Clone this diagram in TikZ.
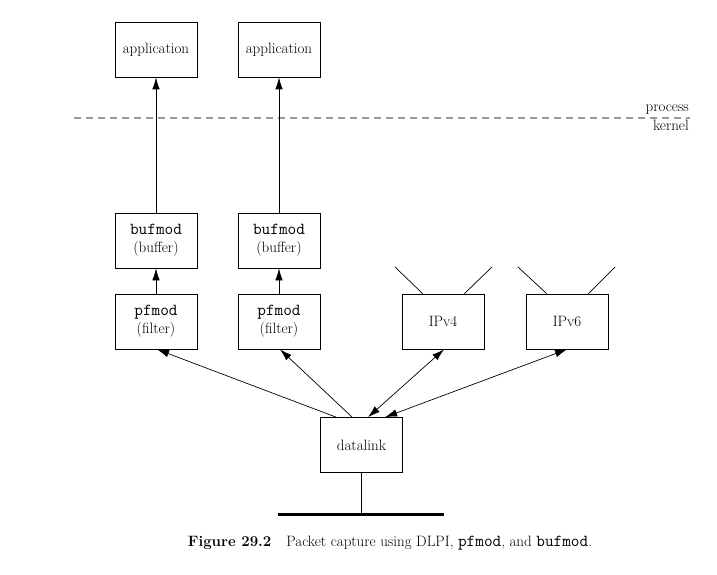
\documentclass[tikz,border=0pt]{standalone}
\usepackage{fontspec}
\setmonofont[Scale=1.12]{Latin Modern Mono}
\usetikzlibrary{arrows.meta}
\begin{document}
\begin{tikzpicture}[x=1pt,y=-1pt,
    box/.style={draw, line width=0.7pt, minimum width=82pt, minimum height=55pt,
      inner sep=1pt, align=center, font=\fontsize{15}{18}\selectfont},
    tip/.style={-{Latex[length=12pt,width=7.5pt]}, line width=0.7pt},
    bothtip/.style={{Latex[length=12pt,width=7.5pt]}-{Latex[length=12pt,width=7.5pt]}, line width=0.7pt}]
          \useasboundingbox (0,0) rectangle (717,575);
          \node [box] (app1) at (156,49.5) {application};
          \node [box] (app2) at (279,49.5) {application};
          \node [box] (buf1) at (156,240.5) {\texttt{bufmod}\\(buffer)};
          \node [box] (buf2) at (279,240.5) {\texttt{bufmod}\\(buffer)};
          \node [box] (pf1) at (156,321.5) {\texttt{pfmod}\\(filter)};
          \node [box] (pf2) at (279,321.5) {\texttt{pfmod}\\(filter)};
          \node [box] (ip4) at (443,321.5) {IPv4};
          \node [box] (ip6) at (567,321.5) {IPv6};
          \node [box] (dl) at (361.5,445) {datalink};
          
          % process / kernel boundary
          \coordinate (kl) at (74,118);
          \coordinate (kr) at (690,118);
          \draw [gray!80, line width=1.3pt, dash pattern=on 7pt off 5pt] (kl) -- (kr);
          \node [anchor=south east, inner sep=1pt, font=\fontsize{15}{18}\selectfont] (proc) at (690,116) {process};
          \node [anchor=north east, inner sep=1pt, font=\fontsize{15}{18}\selectfont] (kern) at (690,119) {kernel};
          
          % up the stream
          \draw [tip] (pf1) edge (buf1) (buf1) edge (app1);
          \draw [tip] (pf2) edge (buf2) (buf2) edge (app2);
          
          % from datalink
          \draw [tip] ([xshift=16pt]dl.north west) -- ([xshift=1pt]pf1.south);
          \draw [tip] ([xshift=32pt]dl.north west) -- ([xshift=1pt]pf2.south);
          \draw [bothtip] ([xshift=48pt]dl.north west) -- ([xshift=1pt]ip4.south);
          \draw [bothtip] ([xshift=65pt]dl.north west) -- (ip6.south);
          
          % antennas
          \coordinate (a1) at (395,267);
          \coordinate (a2) at (492,267);
          \coordinate (a3) at (518,267);
          \coordinate (a4) at (615,267);
          \draw [line width=0.7pt] ([xshift=21pt]ip4.north west) -- (a1);
          \draw [line width=0.7pt] ([xshift=-20pt]ip4.north east) -- (a2);
          \draw [line width=0.7pt] ([xshift=21pt]ip6.north west) -- (a3);
          \draw [line width=0.7pt] ([xshift=-20pt]ip6.north east) -- (a4);
          
          % wire
          \coordinate (w) at (361.5,514);
          \draw [line width=0.7pt] (dl) -- (w);
          \draw [line width=3pt] (278,514) -- (444,514);
          
          \node [font=\fontsize{15}{18}\selectfont, inner sep=0pt] (cap) at (390,543)
            {\textbf{Figure 29.2}\hspace{1em}Packet capture using DLPI, \texttt{pfmod}, and \texttt{bufmod}.};
          \end{tikzpicture}
\end{document}
